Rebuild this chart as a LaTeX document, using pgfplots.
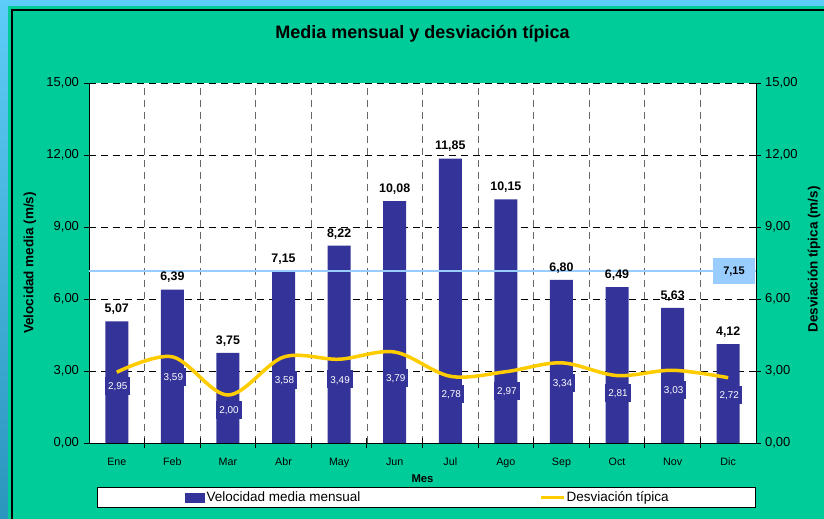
\documentclass[border=0pt]{standalone}
\usepackage{fontspec}
\setmainfont{Liberation Sans}
\usepackage{pgfplots}
\pgfplotsset{compat=1.18}
\usepackage{pgfplotstable}
\definecolor{teal1}{HTML}{00CC99}
\definecolor{outerblue}{HTML}{5ECCF8}
\definecolor{outerdark}{HTML}{2A96BE}
\definecolor{barblue}{HTML}{333399}
\definecolor{lineyellow}{HTML}{FFCC00}
\definecolor{refblue}{HTML}{99CCFF}
\definecolor{vgrid}{HTML}{666666}

\pgfplotstableread{
x v
0 5.07
1 6.39
2 3.75
3 7.15
4 8.22
5 10.08
6 11.85
7 10.15
8 6.80
9 6.49
10 5.63
11 4.12
}\barsdata

\pgfplotstableread{
x s off
0 2.95 15.4
1 3.59 22
2 2.00 16.7
3 3.58 25
4 3.49 22
5 3.79 28
6 2.78 19
7 2.97 20.6
8 3.34 22
9 2.81 18.7
10 3.03 21
11 2.72 19
}\stddata

\pgfplotsset{
  commonax/.style={
    at={(89pt,76pt)}, anchor=south west, scale only axis,
    width=667pt, height=360pt,
    xmin=-0.5, xmax=11.5, ymin=0, ymax=15,
    axis line style={black, line width=0.9pt},
    ytick={0,3,...,15},
    tick align=center, major tick length=9pt, minor tick length=10pt,
    tick style={black, line width=0.9pt},
    /pgf/number format/assume math mode=true,
    yticklabel style={font=\fontsize{13}{15}\selectfont,
      /pgf/number format/fixed, /pgf/number format/fixed zerofill,
      /pgf/number format/precision=2, /pgf/number format/use comma},
  }
}

\begin{document}
\begin{tikzpicture}[x=1pt,y=1pt]
\fill[outerblue] (0,0) rectangle (824,519);
\shade[top color=outerblue, bottom color=outerdark] (0,0) rectangle (8,519);
\fill[teal1] (8,0) rectangle (824,513);
\draw[black, line width=1.3pt] (12,-2) -- (12,509) -- (826,509);
\draw[black, line width=0.8pt, fill=white] (97,12) rectangle (755,32);

\begin{axis}[
  commonax,
  axis x line*=bottom, axis y line*=left,
  axis background/.style={fill=white},
  xtick={0,...,11},
  xticklabels={Ene,Feb,Mar,Abr,May,Jun,Jul,Ago,Sep,Oct,Nov,Dic},
  minor xtick={0.5,1.5,...,10.5},
  every major x tick/.style={draw=none},
  ymajorgrids, xminorgrids,
  major grid style={black, dash pattern=on 7pt off 5pt, line width=0.8pt},
  minor grid style={vgrid, dash pattern=on 7pt off 5pt, line width=0.8pt},
  xticklabel style={font=\fontsize{10.7}{12}\selectfont, yshift=-7pt},
  yticklabel style={xshift=-2pt},
  ylabel={Velocidad media (m/s)},
  ylabel style={font=\bfseries\fontsize{13.5}{15}\selectfont, at={(axis description cs:-0.0885,0.5)}, anchor=center},
  xlabel={Mes},
  xlabel style={font=\bfseries\fontsize{11.3}{13}\selectfont, at={(axis description cs:0.5,-0.1)}, anchor=center},
  title={Media mensual y desviación típica},
  title style={font=\bfseries\fontsize{18}{21}\selectfont, at={(axis description cs:0.5,1)}, anchor=base, yshift=38pt},
  legend columns=2,
  legend style={at={(axis description cs:0.1439,-0.1514)}, anchor=west, draw=none, fill=none, inner sep=0pt,
    nodes={inner sep=1.5pt, font=\fontsize{13.5}{15}\selectfont}, cells={anchor=west}},
]
\addplot[ybar, bar width=23pt, fill=barblue, draw=none,
  nodes near coords={\pgfmathprintnumber[fixed,fixed zerofill,precision=2,use comma]{\pgfplotspointmeta}},
  every node near coord/.append style={font=\bfseries\fontsize{12.4}{14}\selectfont, text=black, inner sep=0pt, text depth=0pt, yshift=8.5pt},
  legend image code/.code={\fill[barblue] (0pt,-5pt) rectangle (20pt,5pt);}
] table[x=x,y=v]{\barsdata};
\addlegendentry{\makebox[331pt][l]{Velocidad media mensual}}

\addplot[refblue, line width=2pt, forget plot] coordinates {(-0.5,7.15) (11.5,7.15)}
  node[pos=1, anchor=east, fill=refblue, minimum width=42pt, minimum height=26pt, inner sep=0pt, text=black, font=\bfseries\fontsize{11}{13}\selectfont] {7,15};

\addplot[lineyellow, line width=3.5pt, smooth, tension=0.55, mark=none,
  visualization depends on={\thisrow{off} \as \labeloff},
  nodes near coords={\pgfmathprintnumber[fixed,fixed zerofill,precision=2,use comma]{\pgfplotspointmeta}},
  every node near coord/.append style={font=\fontsize{9.9}{11}\selectfont, text=white, fill=barblue, inner xsep=3pt, inner ysep=5.4pt, text height=7.2pt, text depth=0pt, xshift=1pt, yshift={-(\labeloff+9)}},
  legend image code/.code={\draw[lineyellow, line width=3pt] (0pt,0pt) -- (23pt,0pt);}
] table[x=x,y=s]{\stddata};
\addlegendentry{Desviación típica}
\end{axis}

\begin{axis}[
  commonax,
  axis x line=none, axis y line*=right,
  yticklabel style={xshift=1pt},
  ylabel={Desviación típica (m/s)},
  ylabel style={font=\bfseries\fontsize{13.5}{15}\selectfont, at={(axis description cs:1.087,0.51)}, anchor=center},
]
\end{axis}
\pgfresetboundingbox
\useasboundingbox (0,0) rectangle (824,519);
\end{tikzpicture}
\end{document}
